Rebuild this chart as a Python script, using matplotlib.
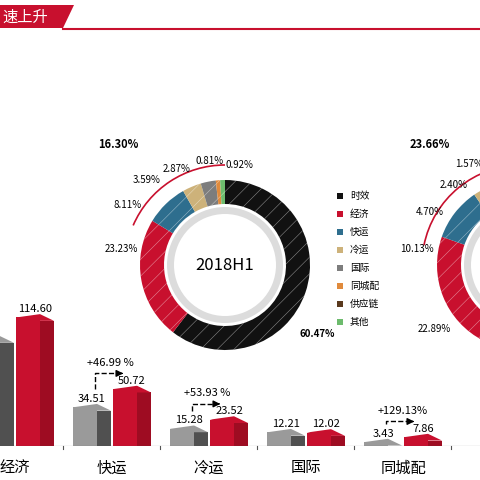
import matplotlib.pyplot as plt
from matplotlib.patches import Polygon, Arc, Wedge, Rectangle

plt.rcParams['font.family'] = ['Noto Sans CJK SC', 'DejaVu Sans']
plt.rcParams['hatch.linewidth'] = 0.4

# bar data (2017H1 grey, 2018H1 red)
cats = ['时效', '经济', '快运', '冷运', '国际', '同城配']
v2017 = [140.0, 95.0, 34.51, 15.28, 12.21, 3.43]
v2018 = [170.0, 114.60, 50.72, 23.52, 12.02, 7.86]
growth = ['', '', '+46.99 %', '+53.93 %', '', '+129.13%']

# donut data
seg_names = ['时效', '经济', '快运', '冷运', '国际', '同城配', '供应链', '其他']
seg_colors = ['#111111', '#c8102e', '#2e6e8e', '#cdb27a', '#7d7d7d', '#e08a3c', '#5a3a1e', '#6dbb6d']
share_h1 = [60.47, 23.23, 8.11, 3.59, 2.87, 0.81, 0.0, 0.92]
share_h2 = [57.5, 22.89, 10.13, 4.70, 2.40, 1.57, 0.5, 0.31]

fig = plt.figure(figsize=(4.8, 4.8), dpi=100)

# ---- bar axes (pixel-like x units) ----
axb = fig.add_axes([0, 34 / 480, 1, 157 / 480])
axb.set_xlim(0, 480)
axb.set_ylim(0, 140)
axb.axis('off')
centers = [15 + 97 * (i - 1) for i in range(len(cats))]
for i, c in enumerate(centers):
    for off, v, front, side in [(-20, v2017[i], '#9a9a9a', '#505050'),
                                (20, v2018[i], '#c8102e', '#9e0c22')]:
        x0 = c + off - 19
        axb.bar(x0 + 12, v, width=24, color=front, linewidth=0)
        axb.bar(x0 + 31, v - 3, width=14, color=side, linewidth=0)
        axb.add_patch(Polygon([[x0, v], [x0 + 24, v + 3], [x0 + 38, v - 3], [x0 + 24, v - 3]],
                              closed=True, color=front, lw=0))
    if i >= 1:
        axb.text(c, -12, cats[i], ha='center', va='top', fontsize=11)
        if i > 1:
            axb.text(c - 20, v2017[i] + 5, f'{v2017[i]:.2f}', ha='center', fontsize=8)
        axb.text(c + 20, v2018[i] + 5, f'{v2018[i]:.2f}', ha='center', fontsize=8)
    if growth[i]:
        y1 = v2017[i] + 16
        y2 = max(v2018[i], v2017[i]) + 14
        axb.plot([c - 17, c - 17, c + 8], [y1, y2, y2], ls='--', color='black', lw=1)
        axb.annotate('', xy=(c + 14, y2), xytext=(c + 6, y2),
                     arrowprops=dict(arrowstyle='-|>', color='black', lw=1))
        axb.text(c - 25, y2 + 7, growth[i], fontsize=8)
axb.plot([0, 480], [0, 0], color='#555555', lw=0.8)
for i in range(len(cats)):
    axb.plot([centers[i] + 48] * 2, [0, -3], color='#555555', lw=0.8, clip_on=False)

# ---- overlay axes in pixel coordinates ----
ax = fig.add_axes([0, 0, 1, 1])
ax.axis('off')

def donut(cx, cy, shares):
    ax.pie(shares, colors=seg_colors, startangle=90, counterclock=False, center=(cx, cy),
           radius=85, wedgeprops=dict(width=24, hatch='//', edgecolor='#ffffff80', linewidth=0))
    ax.add_patch(Wedge((cx, cy), 58, 0, 360, width=7, color='#dcdcdc', lw=0))

donut(225, 215, share_h1)
donut(522, 215, share_h2)
ax.set_xlim(0, 480)
ax.set_ylim(0, 480)
ax.set_aspect('auto')

# header
ax.add_patch(Polygon([[0, 475], [74, 475], [63, 452], [0, 452]], closed=True, color='#c8102e', lw=0))
ax.text(2, 463, '速上升', color='white', fontsize=11, va='center')
ax.plot([63, 480], [451, 451], color='#c8102e', lw=1.5)

ax.text(225, 215, '2018H1', ha='center', va='center', fontsize=12)

# arcs for small share sum
a0 = 90 + 360 * sum(share_h1[2:]) / 100
ax.add_patch(Arc((225, 215), 200, 200, theta1=90, theta2=a0 + 8, color='#c8102e', lw=1.2))
a1 = 90 + 360 * sum(share_h2[2:]) / 100
ax.add_patch(Arc((522, 215), 200, 200, theta1=90, theta2=a1 + 8, color='#c8102e', lw=1.2))

lbl = dict(fontsize=7)
ax.text(300, 143, '60.47%', fontsize=7, fontweight='bold')
ax.text(105, 228, '23.23%', **lbl)
ax.text(113, 272, '8.11%', **lbl)
ax.text(133, 297, '3.59%', **lbl)
ax.text(163, 308, '2.87%', **lbl)
ax.text(196, 316, '0.81%', **lbl)
ax.text(225, 312, '0.92%', **lbl)
ax.text(98, 332, '16.30%', fontsize=8, fontweight='bold')
ax.text(418, 148, '22.89%', **lbl)
ax.text(400, 228, '10.13%', **lbl)
ax.text(416, 265, '4.70%', **lbl)
ax.text(440, 292, '2.40%', **lbl)
ax.text(455, 313, '1.57%', **lbl)
ax.text(410, 332, '23.66%', fontsize=8, fontweight='bold')

# legend
for k, (n, col) in enumerate(zip(seg_names, seg_colors)):
    y = 284 - k * 18
    ax.add_patch(Rectangle((337, y - 3), 6, 6, color=col, lw=0))
    ax.text(350, y, n, fontsize=7, va='center')

fig.savefig('out.png', dpi=100)
